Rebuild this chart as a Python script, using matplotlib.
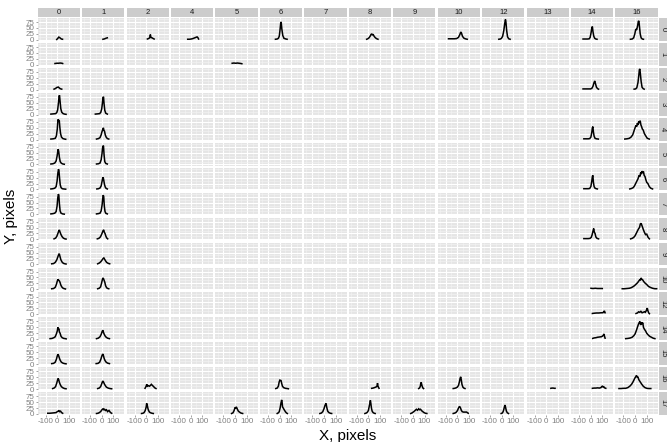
import matplotlib
matplotlib.use("Agg")
import matplotlib.pyplot as plt
from matplotlib.patches import Rectangle

plt.rcParams['font.family'] = ['Liberation Sans', 'DejaVu Sans']

# facet levels
row_levels = [0, 1, 2, 3, 4, 5, 6, 7, 8, 9, 10, 12, 14, 15, 16, 17]
col_levels = [0, 1, 2, 4, 5, 6, 7, 8, 9, 10, 12, 13, 14, 16]

x_ticks = [-100, 0, 100]
x_tick_labels = ["-100", "0", "100"]
y_ticks = [0, 25, 50, 75]
y_tick_labels = ["0", "25", "50", "75"]

# frequency profiles, one dict per row: column -> (X values, Y values)
row_00 = {
    0: ([-5, 5, 12, 18, 25, 35, 45], [1, 6, 11, 10, 7, 3, 2]),
    1: ([10, 20, 30, 40, 48], [2, 3, 5, 7, 8]),
    2: ([10, 20, 30, 36, 40, 44, 50, 60, 68], [3, 5, 8, 22, 10, 9, 8, 5, 3]),
    4: ([-25, -10, 5, 20, 35, 45, 55, 62, 68], [2, 2, 3, 5, 8, 10, 12, 9, 3]),
    6: ([-35, -20, -10, -2, 4, 10, 14, 20, 28, 38, 55, 65],
        [2, 3, 6, 15, 40, 70, 76, 45, 18, 6, 3, 2]),
    8: ([-15, -5, 5, 15, 22, 28, 34, 40, 50, 60, 72, 82],
        [2, 4, 8, 15, 22, 25, 20, 23, 14, 8, 4, 2]),
    10: ([-75, -50, -25, -5, 10, 22, 30, 36, 45, 58, 75, 85],
         [4, 4, 4, 5, 10, 22, 33, 28, 14, 6, 3, 2]),
    12: ([-25, -12, -2, 8, 18, 26, 32, 36, 42, 50, 60, 72],
         [2, 3, 6, 15, 40, 70, 86, 75, 40, 12, 4, 2]),
    14: ([-65, -45, -25, -12, -4, 4, 10, 15, 20, 27, 35, 45, 55],
         [3, 3, 3, 4, 10, 30, 50, 56, 35, 15, 6, 3, 2]),
    16: ([-40, -25, -12, -2, 6, 14, 22, 28, 33, 38, 44, 52, 62, 72],
         [2, 3, 8, 25, 45, 42, 60, 78, 80, 55, 25, 8, 3, 2]),
}
row_01 = {
    0: ([-20, -5, 10, 25, 40, 46], [5, 6, 6, 7, 6, 5]),
    5: ([-25, -10, 5, 20, 35, 50, 58], [6, 7, 6, 7, 6, 5, 4]),
}
row_02 = {
    0: ([-28, -15, -5, 2, 8, 15, 25, 38], [2, 5, 9, 10, 11, 8, 4, 2]),
    14: ([-65, -40, -15, 0, 10, 20, 28, 35, 42, 50, 60, 68],
         [3, 3, 3, 3, 5, 14, 28, 37, 25, 10, 4, 2]),
    16: ([-8, 5, 15, 25, 32, 37, 41, 45, 52, 60, 70, 78],
         [2, 3, 8, 30, 60, 85, 88, 70, 35, 10, 4, 2]),
}
row_03 = {
    0: ([-55, -35, -15, -5, 3, 10, 15, 19, 24, 30, 38, 50, 62, 75],
        [2, 3, 4, 8, 20, 50, 78, 82, 55, 25, 10, 4, 2, 1]),
    1: ([-55, -35, -18, -8, 0, 6, 11, 15, 20, 26, 34, 48],
        [2, 3, 4, 10, 25, 50, 72, 76, 45, 18, 6, 2]),
}
row_04 = {
    0: ([-55, -35, -18, -8, 0, 5, 9, 13, 17, 22, 28, 36, 48, 62, 72],
        [2, 3, 5, 15, 45, 82, 86, 78, 80, 50, 25, 10, 4, 2, 1]),
    1: ([-45, -28, -15, -5, 3, 9, 14, 18, 24, 30, 38, 48, 60],
        [2, 4, 8, 20, 35, 42, 50, 40, 35, 20, 10, 4, 2]),
    14: ([-58, -40, -20, -8, 2, 10, 15, 19, 24, 30, 38, 50, 66],
         [3, 3, 3, 4, 10, 30, 50, 55, 32, 14, 5, 3, 2]),
    16: ([-88, -70, -50, -35, -20, -10, 0, 8, 14, 20, 26, 32, 38, 44, 50, 56,
          62, 70, 80, 92, 105, 122],
         [2, 3, 5, 10, 20, 35, 50, 60, 55, 70, 62, 78, 70, 80, 62, 55,
          45, 40, 25, 15, 5, 2]),
}
row_05 = {
    0: ([-55, -38, -22, -10, -2, 4, 8, 12, 18, 25, 35, 48, 60],
        [2, 3, 6, 15, 35, 55, 65, 55, 30, 12, 5, 2, 1]),
    1: ([-45, -28, -15, -5, 2, 7, 11, 15, 20, 26, 35, 48],
        [2, 3, 6, 20, 45, 70, 80, 78, 40, 12, 4, 2]),
}
row_06 = {
    0: ([-55, -38, -22, -10, -2, 5, 10, 14, 19, 25, 32, 42, 55, 72],
        [2, 3, 5, 12, 35, 70, 86, 80, 50, 20, 8, 3, 2, 1]),
    1: ([-42, -28, -15, -5, 3, 8, 12, 17, 23, 30, 38, 48],
        [2, 3, 6, 15, 35, 48, 52, 40, 22, 10, 4, 2]),
    14: ([-58, -40, -20, -8, 2, 10, 15, 19, 24, 30, 38, 48, 58],
         [3, 3, 3, 4, 12, 35, 55, 60, 30, 12, 5, 3, 2]),
    16: ([-45, -30, -15, -5, 5, 15, 25, 35, 42, 48, 54, 60, 66, 72, 78, 85,
          92, 100, 110, 122, 135, 150],
         [2, 4, 8, 15, 25, 35, 45, 60, 55, 72, 65, 78, 70, 76, 60, 55,
          42, 30, 25, 12, 5, 2]),
}
row_07 = {
    0: ([-55, -38, -22, -10, -2, 4, 9, 13, 18, 24, 32, 45, 60],
        [2, 3, 5, 12, 35, 70, 86, 82, 45, 15, 5, 2, 1]),
    1: ([-45, -30, -15, -5, 3, 9, 13, 17, 22, 28, 36, 48],
        [2, 3, 5, 15, 40, 70, 82, 75, 35, 12, 4, 2]),
}
row_08 = {
    0: ([-28, -15, -5, 5, 12, 17, 22, 30, 40, 52, 65, 75],
        [2, 5, 12, 25, 35, 40, 33, 22, 12, 5, 2, 1]),
    1: ([-38, -25, -12, -2, 6, 12, 17, 22, 28, 35, 42, 51],
        [2, 4, 10, 20, 30, 38, 40, 30, 25, 14, 6, 2]),
    14: ([-58, -40, -20, -5, 5, 12, 18, 22, 26, 32, 38, 45, 55, 68],
         [3, 3, 3, 4, 8, 18, 30, 38, 46, 30, 25, 10, 4, 2]),
    16: ([-38, -25, -12, 0, 10, 20, 30, 38, 45, 52, 58, 65, 72, 80, 90, 100,
          112, 123],
         [2, 4, 8, 15, 25, 35, 45, 50, 65, 68, 60, 50, 40, 30, 20, 22, 8, 2]),
}
row_09 = {
    0: ([-48, -32, -18, -5, 5, 12, 17, 22, 30, 40, 52, 65, 75],
        [2, 3, 8, 18, 32, 42, 45, 35, 20, 10, 4, 2, 1]),
    1: ([-35, -22, -10, 0, 8, 14, 18, 24, 32, 42, 55, 68],
        [2, 5, 10, 16, 22, 26, 27, 22, 15, 8, 4, 2]),
}
row_10 = {
    0: ([-48, -32, -18, -8, 0, 6, 12, 18, 24, 30, 38, 50, 62, 70],
        [2, 3, 8, 20, 35, 42, 38, 35, 28, 18, 10, 4, 2, 1]),
    1: ([-35, -22, -10, -2, 5, 10, 15, 20, 26, 33, 42, 52, 60],
        [2, 4, 10, 25, 40, 48, 45, 38, 30, 15, 6, 3, 2]),
    14: ([3, 20, 40, 60, 80, 100], [4, 3, 4, 3, 3, 3]),
    16: ([-110, -90, -70, -50, -35, -20, -5, 10, 22, 32, 40, 46, 52, 58, 65,
          75, 88, 100, 115, 130, 150, 170, 185],
         [2, 2, 3, 4, 6, 10, 15, 22, 28, 35, 40, 38, 48, 42, 40,
          32, 25, 20, 12, 8, 4, 2, 2]),
}
row_12 = {
    14: ([15, 30, 50, 70, 90, 105, 112, 118, 124], [3, 4, 5, 5, 6, 6, 10, 14, 6]),
    16: ([8, 20, 30, 40, 50, 60, 70, 80, 88, 95, 100, 105, 110, 116, 123],
         [3, 5, 10, 8, 12, 6, 8, 10, 8, 14, 20, 26, 15, 6, 2]),
}
row_14 = {
    0: ([-62, -45, -30, -18, -8, 0, 5, 9, 13, 18, 24, 32, 42, 55, 68, 76],
        [2, 3, 6, 10, 22, 35, 50, 42, 45, 30, 25, 12, 6, 3, 2, 1]),
    1: ([-45, -30, -15, -5, 3, 9, 14, 20, 28, 38, 50, 66],
        [2, 4, 10, 20, 32, 38, 30, 22, 14, 8, 4, 2]),
    14: ([18, 30, 45, 60, 75, 90, 100, 108, 114, 119, 124],
         [3, 5, 6, 8, 9, 10, 12, 16, 22, 12, 4]),
    16: ([-80, -60, -40, -25, -10, 0, 10, 20, 28, 35, 42, 48, 54, 60, 66, 72,
          80, 90, 100, 112, 125, 140, 155, 170],
         [2, 3, 5, 8, 15, 22, 35, 50, 62, 70, 75, 60, 72, 65, 70, 50,
          42, 35, 25, 18, 12, 8, 4, 2]),
}
row_15 = {
    0: ([-48, -32, -18, -8, 0, 6, 12, 18, 26, 35, 48, 62, 75],
        [2, 3, 8, 20, 35, 42, 35, 25, 15, 8, 4, 2, 1]),
    1: ([-48, -32, -18, -8, 2, 9, 15, 20, 28, 38, 50, 66],
        [2, 3, 8, 20, 36, 43, 35, 25, 15, 8, 4, 2]),
}
row_16 = {
    0: ([-40, -28, -15, -5, 2, 7, 12, 18, 26, 35, 48, 62, 75],
        [2, 4, 10, 25, 38, 45, 40, 28, 18, 10, 5, 2, 1]),
    1: ([-35, -22, -10, -2, 5, 10, 15, 22, 30, 40, 55, 70, 85],
        [2, 4, 10, 20, 30, 34, 30, 22, 15, 8, 4, 2, 1]),
    2: ([-10, -2, 5, 12, 20, 28, 36, 44, 52, 60, 68, 76, 84],
        [3, 10, 20, 12, 14, 12, 15, 20, 16, 12, 8, 4, 2]),
    6: ([-32, -20, -10, -3, 3, 8, 13, 18, 25, 35, 50, 65, 76],
        [2, 4, 12, 30, 38, 37, 36, 25, 12, 6, 3, 2, 1]),
    8: ([28, 40, 52, 62, 70, 75, 78, 82, 86, 91], [3, 4, 6, 8, 10, 15, 25, 12, 8, 3]),
    9: ([50, 58, 64, 68, 72, 78, 85, 92], [2, 5, 12, 25, 28, 15, 5, 2]),
    10: ([-35, -22, -10, 0, 10, 18, 24, 29, 34, 40, 48, 56, 66],
         [2, 3, 5, 8, 15, 30, 45, 52, 40, 20, 8, 4, 2]),
    13: ([40, 50, 60, 70, 76], [3, 4, 4, 3, 3]),
    14: ([15, 30, 45, 60, 75, 88, 95, 100, 106, 112, 120, 130],
         [3, 4, 4, 5, 4, 6, 10, 12, 9, 10, 5, 3]),
    16: ([-138, -120, -100, -80, -62, -45, -30, -18, -8, 0, 6, 12, 18, 24, 32,
          42, 55, 70, 85, 100, 118, 135],
         [2, 2, 3, 3, 6, 12, 20, 30, 40, 48, 52, 58, 50, 52, 40,
          32, 22, 12, 6, 3, 2, 2]),
}
row_17 = {
    0: ([-82, -65, -45, -25, -10, 0, 8, 14, 20, 28, 36, 46],
        [3, 3, 4, 5, 6, 10, 12, 15, 10, 12, 6, 3]),
    1: ([-45, -32, -20, -10, -2, 5, 12, 18, 25, 32, 40, 50, 62, 75, 85],
        [2, 3, 6, 10, 15, 20, 22, 18, 20, 15, 18, 10, 15, 6, 3]),
    2: ([-40, -28, -18, -8, 0, 4, 8, 14, 20, 28, 38, 50, 61],
        [2, 3, 6, 15, 30, 45, 40, 25, 15, 8, 5, 3, 2]),
    5: ([-30, -18, -8, 0, 5, 10, 15, 20, 28, 38, 50, 65],
        [2, 5, 15, 28, 25, 30, 26, 20, 12, 8, 4, 2]),
    6: ([-20, -10, -2, 5, 12, 18, 22, 26, 32, 40, 50, 58, 67],
        [2, 5, 10, 25, 45, 60, 50, 30, 25, 18, 10, 5, 2]),
    7: ([-35, -22, -10, 0, 8, 14, 18, 24, 32, 42, 55, 66],
        [2, 4, 10, 22, 35, 43, 45, 28, 12, 6, 3, 2]),
    8: ([-30, -18, -8, 0, 6, 12, 17, 21, 26, 32, 40, 50, 58],
        [2, 4, 8, 15, 30, 45, 58, 45, 25, 12, 6, 3, 2]),
    9: ([-18, -5, 8, 20, 30, 40, 50, 58, 66, 75, 85, 95, 108, 120],
        [2, 5, 10, 15, 20, 16, 22, 18, 20, 14, 10, 6, 3, 2]),
    10: ([-35, -20, -8, 2, 10, 18, 23, 28, 35, 42, 52, 65, 80, 94],
         [2, 4, 8, 15, 25, 32, 30, 25, 15, 10, 8, 8, 8, 3]),
    12: ([-5, 5, 12, 18, 24, 28, 33, 40, 48, 58],
         [2, 4, 10, 20, 32, 38, 28, 12, 5, 2]),
}

profiles = {
    0: row_00, 1: row_01, 2: row_02, 3: row_03, 4: row_04, 5: row_05,
    6: row_06, 7: row_07, 8: row_08, 9: row_09, 10: row_10, 12: row_12,
    14: row_14, 15: row_15, 16: row_16, 17: row_17,
}

# ---- layout (pixels) ----
W, H = 667, 442
fig = plt.figure(figsize=(W / 100, H / 100), dpi=100)

left, right = 37.7, 657.7
top, bottom = 18.0, 415.0
gap = 2.2
n_c, n_r = len(col_levels), len(row_levels)
pw = (right - left - gap * (n_c - 1)) / n_c
ph = (bottom - top - gap * (n_r - 1)) / n_r

BG = "#E5E5E5"
STRIP = "#CCCCCC"
AXIS_GREY = "#7F7F7F"
XLIM = (-168, 194)
YLIM = (-4.4, 92.4)


def fig_rect(x0, y0, w, h):
    return [x0 / W, 1 - (y0 + h) / H, w / W, h / H]


for i, r in enumerate(row_levels):
    for j, c in enumerate(col_levels):
        x0 = left + j * (pw + gap)
        y0 = top + i * (ph + gap)
        ax = fig.add_axes(fig_rect(x0, y0, pw, ph))
        ax.set_facecolor(BG)
        ax.set_xlim(*XLIM)
        ax.set_ylim(*YLIM)
        for s in ax.spines.values():
            s.set_visible(False)
        ax.set_xticks(x_ticks)
        ax.set_xticks([-150, -50, 50, 150], minor=True)
        ax.set_yticks(y_ticks)
        ax.set_yticks([12.5, 37.5, 62.5, 87.5], minor=True)
        ax.grid(which="major", color="white", lw=0.8)
        ax.grid(which="minor", color="#F2F2F2", lw=0.45)
        ax.set_axisbelow(True)
        ax.tick_params(which="minor", length=0)
        ax.tick_params(which="major", length=1.5, width=0.5, color=AXIS_GREY,
                       labelsize=5.8, labelcolor=AXIS_GREY, pad=1)
        if j == 0:
            ax.set_yticklabels(y_tick_labels)
        else:
            ax.tick_params(axis="y", length=0, labelleft=False)
        if i == n_r - 1:
            ax.set_xticklabels(x_tick_labels)
        else:
            ax.tick_params(axis="x", length=0, labelbottom=False)

        prof = profiles[r].get(c)
        if prof is not None:
            xs, ys = prof
            ax.plot(xs, ys, color="black", lw=1.1, solid_joinstyle="miter")

        # column strips along the top
        if i == 0:
            sax = fig.add_axes(fig_rect(x0, 7.5, pw, top - 7.5 - 0.8))
            sax.set_xlim(0, 1)
            sax.set_ylim(0, 1)
            sax.axis("off")
            sax.add_patch(Rectangle((0, 0), 1, 1, color=STRIP))
            sax.text(0.5, 0.5, str(c), ha="center", va="center",
                     fontsize=5.5, color="#1A1A1A")
    # row strips along the right
    y0 = top + i * (ph + gap)
    rax = fig.add_axes(fig_rect(right + 1.0, y0, W - right - 1.0, ph))
    rax.set_xlim(0, 1)
    rax.set_ylim(0, 1)
    rax.axis("off")
    rax.add_patch(Rectangle((0, 0), 1, 1, color=STRIP))
    rax.text(0.5, 0.5, str(r), ha="center", va="center", rotation=-90,
             fontsize=5.5, color="#1A1A1A")

fig.text((left + right) / 2 / W, 1 - 436 / H, "X, pixels", ha="center",
         va="center", fontsize=11, color="black")
fig.text(11 / W, 1 - (top + bottom) / 2 / H, "Y, pixels", ha="center",
         va="center", rotation=90, fontsize=11, color="black")

fig.savefig("out.png", dpi=100)
